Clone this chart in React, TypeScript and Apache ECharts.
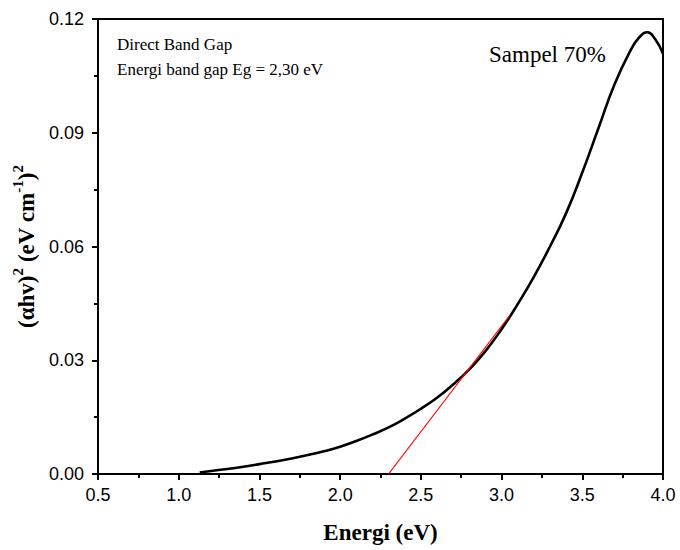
import React, { useEffect, useRef } from "react";
import * as echarts from "echarts";

const energy = [1.13, 1.2, 1.3, 1.4, 1.5, 1.6, 1.7, 1.8, 1.9, 2.0, 2.1, 2.2, 2.3, 2.4, 2.5, 2.6, 2.7, 2.8, 2.9, 3.0, 3.1, 3.2, 3.3, 3.4, 3.5, 3.6, 3.7, 3.8, 3.85, 3.9, 3.95, 4.0];
const absorb = [0.0004, 0.0008, 0.0013, 0.0019, 0.0026, 0.0033, 0.0041, 0.005, 0.006, 0.0072, 0.0087, 0.0104, 0.0123, 0.0146, 0.0172, 0.0201, 0.0236, 0.0276, 0.0324, 0.0382, 0.0448, 0.052, 0.06, 0.0688, 0.0795, 0.0912, 0.1028, 0.1118, 0.115, 0.1165, 0.1148, 0.1108];
const fitX = [2.3, 3.05];
const fitY = [0, 0.0418];
const xTicks = { min: 0.5, max: 4.0, step: 0.5 };
const yTicks = { min: 0, max: 0.12, step: 0.03 };

export default function App() {
  const ref = useRef<HTMLDivElement>(null);
  useEffect(() => {
    if (!ref.current) return;
    const chart = echarts.init(ref.current, null, { renderer: "svg" });
    const serif = "'Liberation Serif', 'Times New Roman', serif";
    const sans = "'Liberation Sans', Arial, sans-serif";
    chart.setOption({
      animation: false,
      backgroundColor: "#fff",
      grid: {
        left: 98, right: 17, top: 19, bottom: 76,
        outerBoundsMode: "none",
        containLabel: false,
        show: true, borderColor: "#000", borderWidth: 2, backgroundColor: "transparent",
      },
      xAxis: {
        type: "value",
        min: xTicks.min,
        max: xTicks.max,
        interval: xTicks.step,
        splitLine: { show: false },
        axisLine: { lineStyle: { color: "#000", width: 2 } },
        axisTick: { length: 6, lineStyle: { color: "#000", width: 2 } },
        minorTick: { show: true, splitNumber: 2, length: 4, lineStyle: { color: "#000", width: 2 } },
        axisLabel: { color: "#000", fontFamily: sans, fontSize: 18, margin: 12, formatter: (v: number) => v.toFixed(1) },
        name: "Energi (eV)",
        nameLocation: "middle",
        nameGap: 47,
        nameTextStyle: { color: "#000", fontFamily: serif, fontWeight: "bold", fontSize: 23 },
      },
      yAxis: {
        type: "value",
        min: yTicks.min,
        max: yTicks.max,
        interval: yTicks.step,
        splitLine: { show: false },
        axisLine: { show: true, lineStyle: { color: "#000", width: 2 } },
        axisTick: { show: true, length: 6, lineStyle: { color: "#000", width: 2 } },
        minorTick: { show: true, splitNumber: 2, length: 4, lineStyle: { color: "#000", width: 2 } },
        axisLabel: { color: "#000", fontFamily: sans, fontSize: 18, margin: 14, formatter: (v: number) => v.toFixed(2) },
        name: "{a|(αhv)}{s|2}{a| (eV cm}{s|-1}{a|)}{s|2}",
        nameLocation: "middle",
        nameGap: 58,
        nameTextStyle: {
          color: "#000",
          rich: {
            a: { fontFamily: serif, fontWeight: "bold", fontSize: 23, color: "#000", lineHeight: 28, verticalAlign: "bottom" },
            s: { fontFamily: serif, fontWeight: "bold", fontSize: 15, color: "#000", lineHeight: 28, verticalAlign: "top", padding: [0, 0, 12, 0] },
          },
        },
      },
      graphic: [
        { type: "text", left: 117, top: 36, style: { text: "Direct Band Gap", font: `17px ${serif}`, fill: "#000" } },
        { type: "text", left: 117, top: 61, style: { text: "Energi band gap Eg = 2,30 eV", font: `17px ${serif}`, fill: "#000" } },
        { type: "text", left: 489, top: 43, style: { text: "Sampel 70%", font: `23px ${serif}`, fill: "#000" } },
      ],
      series: [
        {
          type: "line",
          data: energy.map((x, i) => [x, absorb[i]]),
          smooth: 0.5,
          showSymbol: false,
          lineStyle: { color: "#000", width: 2.6 },
          z: 3,
        },
        {
          type: "line",
          data: fitX.map((x, i) => [x, fitY[i]]),
          showSymbol: false,
          lineStyle: { color: "#ff0000", width: 1.2 },
          z: 4,
        },
      ],
    });
    return () => chart.dispose();
  }, []);
  return <div ref={ref} style={{ width: 680, height: 550, position: "absolute", left: 0, top: 0 }} />;
}
